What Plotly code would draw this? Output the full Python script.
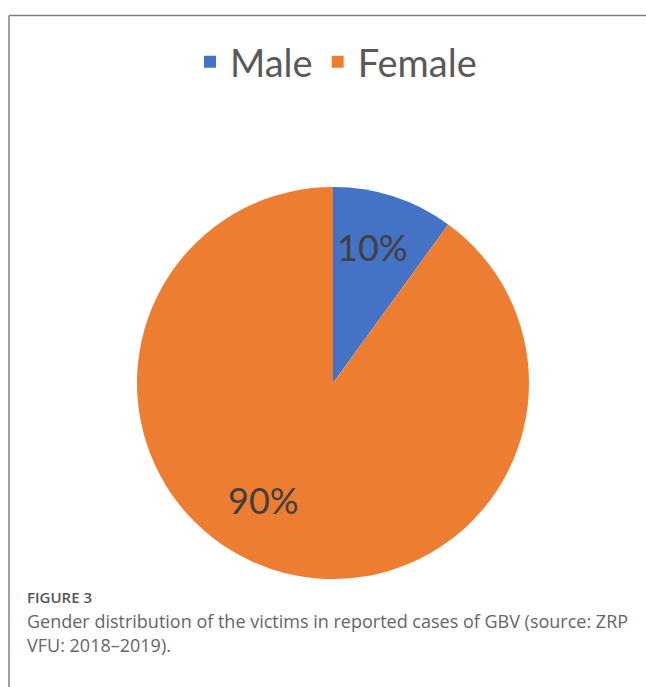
import plotly.graph_objects as go

W, H = 646, 687

labels = ["Male", "Female"]
values = [10, 90]
colors = ["#4472C4", "#ED7D31"]

caption_title = "FIGURE 3"
caption_lines = [
    "Gender distribution of the victims in reported cases of GBV (source: ZRP",
    "VFU: 2018\u20132019).",
]

def px_x(x):
    return x / W

def px_y(y):
    return 1 - y / H

cx, cy, r = 333, 383, 196
# data label anchor positions (pixels) for each slice label
label_pos = [(372, 247), (263, 500)]

total = sum(values)
pct_text = [f"{round(v * 100 / total)}%" for v in values]

fig = go.Figure(
    go.Pie(
        labels=labels,
        values=values,
        sort=False,
        direction="clockwise",
        rotation=0,
        marker=dict(colors=colors, line=dict(width=0)),
        textinfo="none",
        domain=dict(x=[px_x(cx - r), px_x(cx + r)], y=[px_y(cy + r), px_y(cy - r)]),
        hoverinfo="label+percent",
    )
)

annotations = []
for t, (lx, ly) in zip(pct_text, label_pos):
    annotations.append(dict(
        text=t, xref="paper", yref="paper", x=px_x(lx), y=px_y(ly),
        xanchor="center", yanchor="middle", showarrow=False,
        font=dict(family="Lato", size=36, color="#404040"),
    ))

annotations += [
    dict(text=caption_title, xref="paper", yref="paper",
         x=px_x(25), y=px_y(597), xanchor="left", yanchor="middle",
         showarrow=False,
         font=dict(family="Open Sans", size=15, color="#555555", weight=600)),
    dict(text=caption_lines[0], xref="paper", yref="paper",
         x=px_x(25), y=px_y(621), xanchor="left", yanchor="middle",
         showarrow=False,
         font=dict(family="Open Sans", size=18, color="#666666")),
    dict(text=caption_lines[1], xref="paper", yref="paper",
         x=px_x(25), y=px_y(645), xanchor="left", yanchor="middle",
         showarrow=False,
         font=dict(family="Open Sans", size=18, color="#666666")),
]

fig.update_layout(
    width=W,
    height=H,
    margin=dict(l=0, r=0, t=0, b=0),
    paper_bgcolor="white",
    plot_bgcolor="white",
    showlegend=True,
    legend=dict(
        orientation="h",
        x=px_x(336),
        xanchor="center",
        y=px_y(62),
        yanchor="middle",
        font=dict(family="Lato", size=38, color="#595959"),
        itemwidth=30,
        bgcolor="rgba(0,0,0,0)",
    ),
    shapes=[
        dict(type="line", xref="paper", yref="paper",
             x0=px_x(9), x1=1, y0=px_y(15.5), y1=px_y(15.5),
             line=dict(color="#808080", width=1.5)),
        dict(type="line", xref="paper", yref="paper",
             x0=px_x(9), x1=px_x(9), y0=px_y(15.5), y1=0,
             line=dict(color="#808080", width=1.5)),
    ],
    annotations=annotations,
)

fig.write_html("out.html")
